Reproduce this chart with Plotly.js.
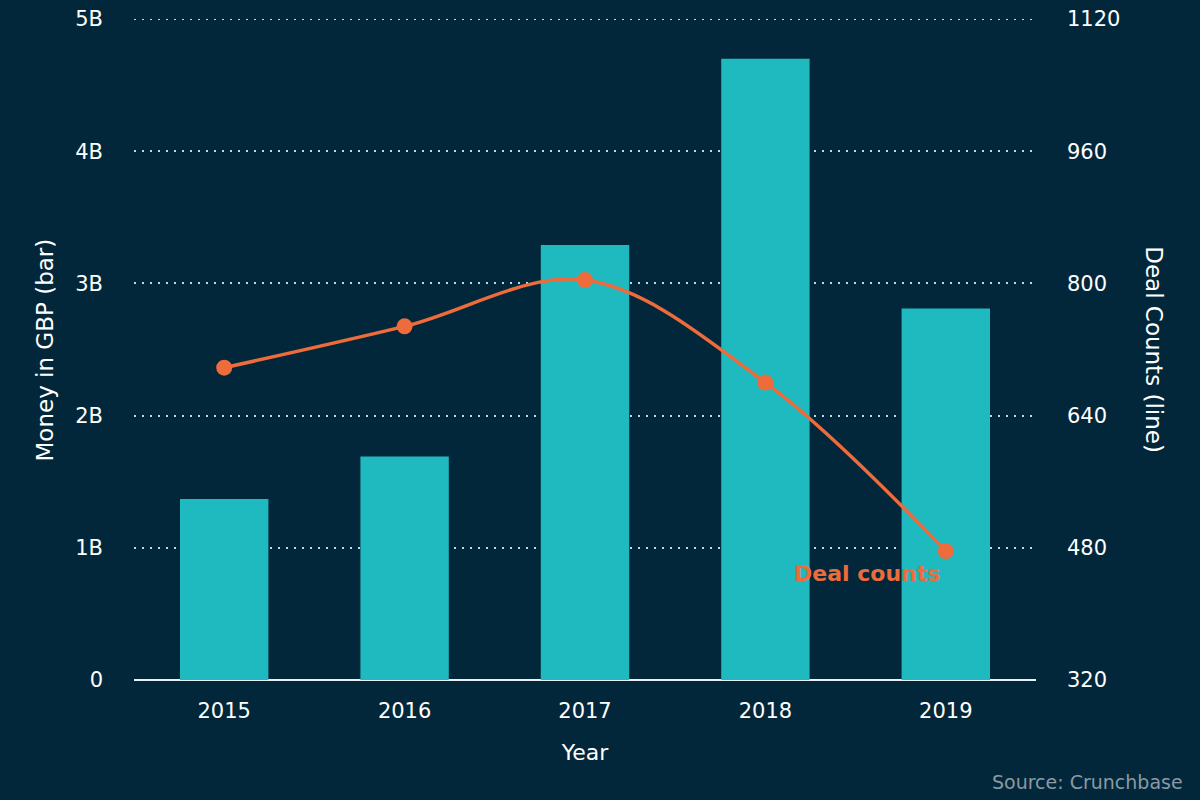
<!DOCTYPE html>
<html><head><meta charset="utf-8">
<script src="https://cdn.plot.ly/plotly-3.0.1.min.js"></script>
<style>html,body{margin:0;padding:0;background:#03273a;}</style>
</head><body>
<div id="chart" style="width:1200px;height:800px;"></div>
<script>
const years = ['2015', '2016', '2017', '2018', '2019'];
const moneyGBP = [1.37e9, 1.69e9, 3.29e9, 4.70e9, 2.81e9];
const dealCounts = [698, 748, 804, 680, 476];
const leftTickVals = [0, 1e9, 2e9, 3e9, 4e9, 5e9];
const leftTickText = ['0', '1B', '2B', '3B', '4B', '5B'];
const rightTickVals = [320, 480, 640, 800, 960, 1120];

const font = 'DejaVu Sans, sans-serif';
const bg = '#03273a';
const gridColor = '#b8dde8';
const traces = [
  {type: 'bar', x: years, y: moneyGBP, marker: {color: '#1fbabf'}, hoverinfo: 'x+y'},
  {type: 'scatter', mode: 'lines+markers', x: years, y: dealCounts, yaxis: 'y2',
   line: {color: '#ee6b3b', width: 3.5, shape: 'spline', smoothing: 1},
   marker: {color: '#ee6b3b', size: 16}}
];
const layout = {
  width: 1200, height: 800,
  paper_bgcolor: bg, plot_bgcolor: bg,
  margin: {l: 134, r: 164, t: 19, b: 120},
  showlegend: false, bargap: 0.51,
  font: {family: font, color: '#ffffff', size: 20},
  xaxis: {type: 'category', range: [-0.5, 4.5], showgrid: false, ticks: '',
    ticklabelstandoff: 16,
    title: {text: 'Year', font: {size: 22, color: '#ffffff'}, standoff: 22},
    tickfont: {size: 21}, showline: false, zeroline: false},
  yaxis: {range: [0, 5e9], tickvals: leftTickVals, ticktext: leftTickText,
    showgrid: true, gridcolor: gridColor, griddash: '2px,6px', gridwidth: 2,
    zeroline: true, zerolinecolor: '#e8f2f5', zerolinewidth: 2,
    ticks: '', ticklabelstandoff: 30,
    tickfont: {size: 21}},
  yaxis2: {overlaying: 'y', side: 'right', range: [320, 1120], tickvals: rightTickVals,
    showgrid: false, zeroline: false, ticks: '', ticklabelstandoff: 30,
    tickfont: {size: 21}},
  shapes: [
    {type: 'line', xref: 'paper', yref: 'y', x0: 0, x1: 1, y0: leftTickVals[5], y1: leftTickVals[5],
     line: {color: gridColor, width: 2, dash: '2px,6px'}, layer: 'below'}
  ],
  annotations: [
    {xref: 'paper', yref: 'paper', x: -0.0987, y: 0.5, text: 'Money in GBP (bar)',
     textangle: -90, showarrow: false, xanchor: 'center', yanchor: 'middle',
     font: {family: font, size: 23, color: '#ffffff'}},
    {xref: 'paper', yref: 'paper', x: 1.1308, y: 0.499, text: 'Deal Counts (line)',
     textangle: 90, showarrow: false, xanchor: 'center', yanchor: 'middle',
     font: {family: font, size: 23, color: '#ffffff'}},
    {xref: 'x', yref: 'y2', x: 4, y: dealCounts[4], text: '<b>Deal counts</b>',
     showarrow: false, xanchor: 'right', yanchor: 'middle', xshift: -4, yshift: -22,
     font: {family: font, size: 22, color: '#ee6b3b'}},
    {xref: 'paper', yref: 'paper', x: 1.165, y: -0.155, xanchor: 'right', yanchor: 'middle',
     text: 'Source: Crunchbase', showarrow: false, font: {family: font, size: 19, color: '#8a9aa3'}}
  ]
};
Plotly.newPlot('chart', traces, layout, {displayModeBar: false, staticPlot: true});
</script>
</body></html>
